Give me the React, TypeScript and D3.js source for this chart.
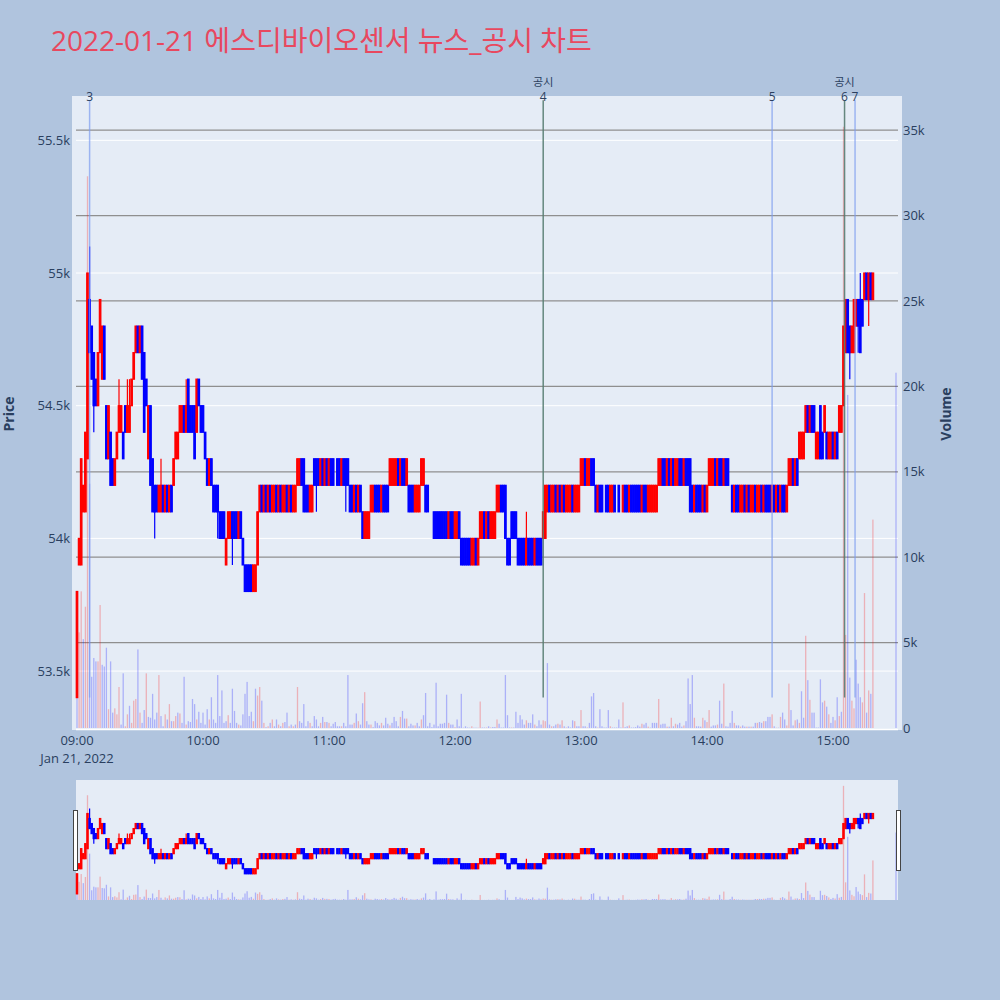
import * as d3 from 'd3';

// 2022-01-21 one-minute candles, prices in units of 100 won: [open, close]
const sessionOpen = '09:00';
const bodies: [number, number][] = [
  [534, 538], [539, 540], [539, 543], [541, 542], [541, 544], [543, 550], [549, 547], [548, 546], [547, 545], [546, 545],
  [545, 547], [547, 549], [546, 548], [548, 546], [545, 543], [543, 545], [544, 542], [543, 542], [542, 543], [543, 544],
  [544, 545], [544, 545], [544, 543], [545, 544], [544, 545], [544, 545], [545, 546], [546, 547], [547, 548], [548, 547],
  [547, 548], [548, 546], [547, 544], [546, 545], [543, 545], [545, 542], [543, 541], [542, 541], [542, 541], [541, 542],
  [541, 542], [542, 541], [541, 542], [542, 541], [541, 542], [542, 541], [542, 543], [543, 544], [543, 544], [544, 545],
  [544, 545], [545, 544], [544, 545], [546, 544], [545, 544], [545, 544], [545, 543], [544, 546], [546, 545], [545, 544],
  [545, 544], [544, 543], [543, 542], [542, 543], [543, 542], [542, 541], [542, 541], [542, 541], [541, 540], [541, 540],
  [541, 540], [539, 540], [540, 541], [540, 541], [541, 540], [541, 540], [541, 540], [540, 541], [541, 540], [540, 539],
  [539, 538], [539, 538], [539, 538], [539, 538], [538, 539], [538, 539], [539, 541], [541, 542], [542, 541], [541, 542],
  [542, 541], [541, 542], [542, 541], [541, 542], [541, 542], [542, 541], [541, 542], [542, 541], [541, 542], [541, 542],
  [542, 541], [541, 542], [542, 541], [541, 542], [541, 542], [542, 543], [542, 543], [543, 542], [543, 541], [542, 541],
  [542, 541], [541, 542], [541, 542], [543, 542], [543, 542], [543, 542], [542, 543], [543, 542], [542, 543], [543, 542],
  [542, 543], [543, 542], [543, 542], [542, 542], [543, 542], [543, 542], [542, 543], [543, 542], [543, 542], [543, 542],
  [542, 541], [542, 541], [541, 542], [542, 541], [541, 542], [542, 541], [541, 540], [540, 541], [540, 541], [540, 541],
  [541, 542], [541, 542], [542, 541], [542, 541], [542, 541], [541, 542], [542, 541], [542, 541], [542, 541], [542, 543],
  [542, 543], [542, 543], [542, 543], [543, 542], [542, 543], [543, 542], [543, 542], [542, 543], [542, 541], [542, 541],
  [542, 541], [541, 542], [541, 542], [541, 542], [542, 543], [542, 543], [542, 541], [542, 541], [541, 541], [541, 541],
  [541, 540], [541, 540], [541, 540], [541, 540], [541, 540], [541, 540], [541, 540], [540, 541], [541, 540], [541, 540],
  [540, 541], [540, 541], [541, 540], [540, 539], [540, 539], [540, 539], [540, 539], [540, 539], [539, 540], [539, 540],
  [540, 539], [539, 540], [540, 541], [540, 541], [541, 540], [540, 541], [541, 540], [540, 541], [540, 541], [540, 541],
  [541, 542], [541, 542], [542, 541], [542, 541], [542, 540], [540, 539], [540, 539], [541, 540], [541, 540], [541, 540],
  [540, 539], [540, 539], [540, 539], [540, 539], [539, 540], [540, 539], [540, 539], [540, 539], [539, 540], [540, 539],
  [540, 539], [540, 539], [540, 541], [540, 542], [541, 542], [542, 541], [541, 542], [541, 542], [542, 541], [541, 542],
  [542, 541], [541, 542], [542, 541], [541, 542], [541, 542], [541, 542], [542, 541], [541, 542], [541, 542], [541, 542],
  [542, 543], [542, 543], [543, 542], [542, 543], [542, 543], [543, 542], [543, 542], [542, 541], [541, 542], [542, 541],
  [542, 541], [541, 541], [542, 541], [542, 541], [541, 542], [541, 542], [542, 541], [541, 541], [542, 541], [541, 541],
  [541, 542], [542, 541], [542, 541], [541, 542], [542, 541], [542, 541], [542, 541], [542, 541], [542, 541], [541, 542],
  [542, 541], [542, 541], [541, 542], [541, 542], [541, 542], [541, 542], [541, 542], [542, 543], [542, 543], [543, 542],
  [543, 542], [542, 543], [543, 542], [542, 543], [543, 542], [542, 543], [542, 543], [543, 542], [543, 542], [542, 543],
  [543, 542], [543, 542], [543, 541], [542, 541], [541, 542], [542, 541], [542, 541], [542, 541], [541, 542], [542, 541],
  [541, 542], [542, 543], [542, 543], [542, 543], [543, 542], [542, 543], [543, 542], [543, 542], [542, 543], [543, 542],
  [543, 542], [542, 542], [542, 541], [541, 542], [542, 541], [542, 541], [541, 542], [541, 542], [542, 541], [541, 542],
  [542, 541], [541, 542], [541, 542], [542, 541], [541, 542], [541, 542], [542, 541], [541, 542], [542, 541], [542, 541],
  [542, 541], [541, 542], [542, 541], [541, 542], [542, 541], [541, 542], [542, 541], [542, 541], [541, 542], [542, 543],
  [542, 543], [543, 542], [542, 543], [543, 542], [543, 544], [543, 544], [543, 544], [544, 545], [545, 544], [544, 545],
  [545, 544], [545, 544], [543, 544], [543, 544], [545, 543], [544, 543], [544, 545], [544, 543], [543, 544], [543, 544],
  [544, 543], [543, 544], [544, 543], [544, 545], [544, 545], [545, 548], [547, 549], [549, 547], [548, 547], [547, 548],
  [547, 549], [548, 549], [549, 548], [549, 547], [549, 548], [549, 550], [550, 549], [549, 550], [550, 549], [549, 550],
];

// [minute index, high, low] where the wick reaches past the body
const wicks: [number, number, number][] = [
  [6, 551, 547], [8, 547, 544], [20, 546, 544], [24, 546, 544], [25, 546, 544], [37, 542, 540],
  [40, 543, 541], [52, 546, 544], [67, 542, 540], [74, 541, 539], [114, 543, 541], [128, 543, 541],
  [214, 541, 539], [368, 548, 546], [372, 549, 547], [373, 550, 547], [377, 550, 548],
];

// shares traded per minute
const volumes = [
  6500, 5600, 8000, 5200, 7100, 32300, 14300, 3000, 4100, 3900,
  3900, 7200, 3700, 3600, 4700, 1100, 3900, 900, 1150, 800,
  2400, 200, 3200, 100, 800, 1300, 300, 1600, 1700, 4600,
  900, 300, 1050, 3200, 650, 600, 2000, 500, 900, 3100,
  700, 100, 800, 500, 1400, 400, 400, 700, 900, 850,
  300, 3000, 200, 400, 350, 1700, 1400, 500, 950, 300,
  900, 200, 1100, 500, 1800, 500, 300, 3100, 700, 2200,
  300, 400, 750, 300, 2300, 1000, 300, 200, 150, 800,
  2000, 2700, 700, 950, 400, 2300, 1900, 2400, 1600, 300,
  50, 100, 300, 500, 100, 500, 200, 100, 300, 350,
  900, 100, 200, 100, 200, 2400, 400, 300, 1400, 100,
  400, 300, 100, 700, 500, 100, 300, 650, 350, 350,
  300, 100, 250, 350, 100, 100, 100, 300, 100, 3100,
  200, 200, 300, 850, 400, 200, 1450, 2100, 400, 200,
  200, 50, 400, 300, 150, 300, 150, 600, 250, 150,
  300, 650, 400, 100, 650, 1000, 550, 550, 100, 250,
  150, 150, 300, 100, 500, 750, 2050, 100, 300, 50,
  200, 2650, 100, 250, 250, 300, 1950, 300, 200, 200,
  50, 500, 100, 2000, 20, 100, 30, 20, 100, 20,
  20, 20, 1550, 30, 30, 30, 100, 30, 60, 60,
  500, 250, 30, 30, 3100, 750, 30, 30, 30, 950,
  300, 750, 500, 200, 450, 300, 300, 800, 200, 100,
  450, 200, 450, 400, 3800, 200, 100, 100, 200, 250,
  200, 450, 100, 30, 100, 30, 450, 400, 100, 100,
  1050, 100, 100, 30, 300, 1850, 2050, 100, 30, 1100,
  100, 30, 30, 1050, 100, 30, 30, 30, 500, 30,
  1500, 50, 100, 150, 30, 30, 50, 150, 80, 250,
  200, 300, 80, 20, 300, 300, 300, 1700, 200, 250,
  250, 80, 80, 600, 100, 250, 200, 300, 80, 150,
  400, 2900, 1400, 3100, 600, 100, 100, 80, 600, 450,
  350, 1050, 80, 150, 150, 200, 1600, 250, 2600, 100,
  80, 300, 1000, 300, 150, 150, 80, 150, 80, 80,
  80, 80, 80, 300, 300, 350, 300, 400, 400, 650,
  650, 800, 100, 20, 20, 650, 900, 500, 150, 2600,
  1050, 150, 450, 500, 300, 2150, 600, 5400, 2800, 1650,
  900, 900, 30, 30, 2850, 1500, 1600, 1250, 800, 300,
  650, 450, 1800, 700, 950, 35200, 5450, 19500, 2950, 1600,
  1150, 4000, 2600, 1800, 1500, 7900, 900, 2200, 2000, 12200,
];

const closingAuction = { time: '15:30', open: 550, close: 550, volume: 20800 };

const markers = [
  { label: '3', time: '09:06', kind: 'news' },
  { label: '4', time: '12:42', kind: 'notice' },
  { label: '5', time: '14:31', kind: 'news' },
  { label: '6', time: '15:05:30', kind: 'notice' },
  { label: '7', time: '15:10:30', kind: 'news' },
];

const priceTicks = [53500, 54000, 54500, 55000, 55500];
const volumeTicks = [0, 5000, 10000, 15000, 20000, 25000, 30000, 35000];
const hourTicks = ['09:00', '10:00', '11:00', '12:00', '13:00', '14:00', '15:00'];

const UP = '#ff0000';
const DOWN = '#0000ff';
const INK = '#2a3f5f';
const FONT = '"Open Sans", "Noto Sans CJK KR", sans-serif';

const toDate = (s: string) => {
  const [h, m, sec] = s.split(':').map(Number);
  return new Date(2022, 0, 21, h, m, sec || 0);
};

type Candle = { t: Date; o: number; c: number; h: number; l: number; v: number; up: boolean; volUp: boolean };

const start = toDate(sessionOpen);
const candles: Candle[] = bodies.map(([o, c], i) => ({
  t: d3.timeMinute.offset(start, i),
  o: o * 100,
  c: c * 100,
  h: Math.max(o, c) * 100,
  l: Math.min(o, c) * 100,
  v: volumes[i],
  up: true,
  volUp: false,
}));
wicks.forEach(([i, h, l]) => {
  candles[i].h = h * 100;
  candles[i].l = l * 100;
});
candles.push({
  t: toDate(closingAuction.time),
  o: closingAuction.open * 100,
  c: closingAuction.close * 100,
  h: Math.max(closingAuction.open, closingAuction.close) * 100,
  l: Math.min(closingAuction.open, closingAuction.close) * 100,
  v: closingAuction.volume,
  up: true,
  volUp: false,
});

// plotly-style direction: flat candles keep the previous direction unless the close moved
let rising = true;
let prevClose: number | null = null;
candles.forEach((d) => {
  if (d.c === d.o) {
    if (prevClose !== null && d.c !== prevClose) rising = d.c > prevClose;
  } else rising = d.c > d.o;
  d.up = rising;
  d.volUp = prevClose !== null && d.c > prevClose;
  prevClose = d.c;
});

const dayHigh = d3.max(candles, (d) => d.h) as number;
const dayLow = d3.min(candles, (d) => d.l) as number;

const x = d3.scaleTime().domain([toDate('09:00'), toDate('15:00')]).range([77, 833]);
const yPrice = d3.scaleLinear().domain([53278, 55667]).range([730, 96]);
const yVol = d3.scaleLinear().domain([0, 37000]).range([728, 96]);
const yPriceMini = d3.scaleLinear().domain([53278, 55667]).range([900, 780]);
const yVolMini = d3.scaleLinear().domain([0, 37000]).range([900, 780]);

const kFmt = (v: number) => (v === 0 ? '0' : `${d3.format('~g')(v / 1000)}k`);

function VolumeBars({ y }: { y: d3.ScaleLinear<number, number> }) {
  return (
    <g>
      {candles.map((d, i) => (
        <rect
          key={i}
          x={x(d.t) - 0.65}
          y={y(d.v)}
          width={1.3}
          height={y(0) - y(d.v)}
          fill={d.volUp ? 'rgba(255,0,0,0.25)' : 'rgba(0,0,255,0.25)'}
        />
      ))}
    </g>
  );
}

function Candles({ y, w }: { y: d3.ScaleLinear<number, number>; w: number }) {
  return (
    <g>
      {candles.map((d, i) => {
        const cx = x(d.t);
        const col = d.up ? UP : DOWN;
        const top = y(Math.max(d.o, d.c));
        const bot = y(Math.min(d.o, d.c));
        return (
          <g key={i}>
            <line x1={cx} x2={cx} y1={y(d.h)} y2={y(d.l)} stroke={col} strokeWidth={1.2} />
            <rect x={cx - w / 2} y={top} width={w} height={bot - top} fill={col} stroke={col} strokeWidth={1.2} />
          </g>
        );
      })}
    </g>
  );
}

export default function App() {
  const lineTop = yPrice(dayHigh * 1.01);
  const lineBottom = yPrice(dayLow);
  return (
    <svg width={1000} height={1000} style={{ position: 'absolute', left: 0, top: 0, fontFamily: FONT }}>
      <rect width={1000} height={1000} fill="#b0c4de" />
      <text x={51} y={51} fontSize={28} fill="#e8485f">
        2022-01-21 에스디바이오센서 뉴스_공시 차트
      </text>

      <rect x={72} y={96} width={830} height={634} fill="#e5ecf6" />
      {priceTicks.map((p) => (
        <line key={p} x1={76} x2={898} y1={yPrice(p)} y2={yPrice(p)} stroke="#ffffff" strokeWidth={1} />
      ))}
      {volumeTicks.slice(1).map((v) => (
        <line key={v} x1={76} x2={898} y1={yVol(v)} y2={yVol(v)} stroke="#8f8f8f" strokeWidth={1.3} />
      ))}
      <line x1={76} x2={898} y1={729.5} y2={729.5} stroke="#ffffff" strokeWidth={1.5} />

      <VolumeBars y={yVol} />
      <Candles y={yPrice} w={1.5} />

      {markers.map((m) => {
        const mx = x(toDate(m.time));
        const notice = m.kind === 'notice';
        return (
          <g key={m.label}>
            <line
              x1={mx}
              x2={mx}
              y1={lineTop}
              y2={lineBottom}
              stroke={notice ? '#567c72' : '#7d9cf0'}
              strokeOpacity={notice ? 0.9 : 0.7}
              strokeWidth={1.5}
            />
            <text x={mx} y={lineTop + 1} textAnchor="middle" fontSize={12} fill={INK}>
              {m.label}
            </text>
            {notice && (
              <text x={mx} y={lineTop - 14} textAnchor="middle" fontSize={11} fill={INK}>
                공시
              </text>
            )}
          </g>
        );
      })}

      {priceTicks.map((p) => (
        <text key={p} x={70} y={yPrice(p)} dy="0.35em" textAnchor="end" fontSize={13} fill={INK}>
          {kFmt(p)}
        </text>
      ))}
      {volumeTicks.map((v) => (
        <text key={v} x={903} y={yVol(v)} dy="0.35em" textAnchor="start" fontSize={13} fill={INK}>
          {kFmt(v)}
        </text>
      ))}
      {hourTicks.map((h) => (
        <text key={h} x={x(toDate(h))} y={745} textAnchor="middle" fontSize={13} fill={INK}>
          {h}
        </text>
      ))}
      <text x={x(toDate('09:00'))} y={763} textAnchor="middle" fontSize={13} fill={INK}>
        Jan 21, 2022
      </text>
      <text transform="translate(14,414) rotate(-90)" textAnchor="middle" fontSize={14} fontWeight="bold" fill={INK}>
        Price
      </text>
      <text transform="translate(951,414) rotate(-90)" textAnchor="middle" fontSize={14} fontWeight="bold" fill={INK}>
        Volume
      </text>

      <rect x={76} y={780} width={822} height={120} fill="#e5ecf6" />
      <VolumeBars y={yVolMini} />
      <Candles y={yPriceMini} w={1.3} />
      <rect x={73.5} y={810.5} width={4} height={60} fill="#ffffff" stroke="#444444" strokeWidth={1} />
      <rect x={896.5} y={810.5} width={4} height={60} fill="#ffffff" stroke="#444444" strokeWidth={1} />
    </svg>
  );
}
